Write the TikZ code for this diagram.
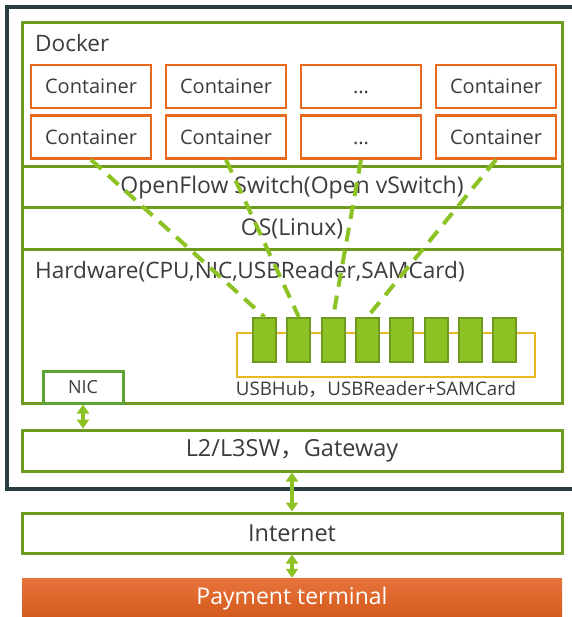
\documentclass[tikz,border=0pt]{standalone}
\usepackage{fontspec}
\setmainfont{Open Sans}
\newfontfamily\cjk{Noto Sans CJK JP}
\usetikzlibrary{arrows.meta}
\definecolor{framegray}{HTML}{2B3C45}
\definecolor{boxgreen}{HTML}{6E9A1F}
\definecolor{lightgreen}{HTML}{8CC224}
\definecolor{nicgreen}{HTML}{5BA332}
\definecolor{boxorange}{HTML}{E8691E}
\definecolor{hubyellow}{HTML}{E9B825}
\definecolor{textgray}{HTML}{3C3C3C}
\definecolor{paytop}{HTML}{E8743C}
\definecolor{paybot}{HTML}{D2581A}

\begin{document}
\begin{tikzpicture}[x=1pt,y=-1pt,
		layer/.style={draw=boxgreen, line width=3pt, fill=white, minimum width=540, inner sep=0pt, text=textgray, font=\fontsize{23}{26}\selectfont},
		container/.style={draw=boxorange, line width=2.5pt, fill=white, minimum width=120, minimum height=43, inner sep=0pt, text height=14.3pt, text depth=0pt, text=textgray, font=\fontsize{20}{23}\selectfont},
		usb/.style={draw=boxgreen, line width=2pt, fill=lightgreen, minimum width=23, minimum height=44, inner sep=0pt},
		label/.style={inner sep=0pt, text=textgray},
		link/.style={lightgreen, line width=4pt, dash pattern=on 14pt off 9pt},
		biarrow/.style={lightgreen, line width=3.5pt, {Triangle[width=12pt,length=9pt]}-{Triangle[width=12pt,length=9pt]}}]
			\useasboundingbox (0,0) rectangle (571,617);
			\node	(server) at (296,248) [draw=framegray, line width=4pt, minimum width=578, minimum height=482] {};
			
			\node	(docker) at (292,95) [layer, minimum height=144] {};
			\node	(dl) at (35,52) [label, anchor=base west, font=\fontsize{22.6}{26}\selectfont] {Docker};
			\node	(c11) at (91,86.5) [container] {Container};
			\node	(c12) at (226,86.5) [container] {Container};
			\node	(c13) at (361,86.5) [container] {...};
			\node	(c14) at (496,86.5) [container] {Container};
			\node	(c21) at (91,137) [container] {Container};
			\node	(c22) at (226,137) [container] {Container};
			\node	(c23) at (361,137) [container] {...};
			\node	(c24) at (496,137) [container] {Container};
			
			\node	(ovs) at (292,187.5) [layer, minimum height=41] {OpenFlow Switch(Open vSwitch)};
			\node	(os) at (292,228.5) [layer, minimum height=41] {OS(Linux)};
			\node	(hw) at (292,326) [layer, minimum height=154] {};
			\node	(hl) at (35,278) [label, anchor=base west, font=\fontsize{22.6}{26}\selectfont] {Hardware(CPU,NIC,USBReader,SAMCard)};
			
			\node	(hub) at (386,355) [draw=hubyellow, line width=2pt, minimum width=298, minimum height=44] {};
			\node	(u1) at (264.5,340) [usb] {};
			\node	(u2) at (298.8,340) [usb] {};
			\node	(u3) at (333.1,340) [usb] {};
			\node	(u4) at (367.4,340) [usb] {};
			\node	(u5) at (401.7,340) [usb] {};
			\node	(u6) at (436,340) [usb] {};
			\node	(u7) at (470.3,340) [usb] {};
			\node	(u8) at (504.6,340) [usb] {};
			\node	(ul) at (376,389) [label, font=\fontsize{18.7}{22}\selectfont] {USBHub{\cjk ，}USBReader+SAMCard};
			
			\node	(nic) at (83,387) [draw=nicgreen, line width=3pt, fill=white, minimum width=80, minimum height=32, inner sep=0pt, text=textgray, font=\fontsize{18}{21}\selectfont] {NIC};
			
			\node	(l2) at (292,450.5) [layer, minimum height=41, font=\fontsize{23.5}{27}\selectfont] {L2/L3SW{\cjk ，}Gateway};
			\node	(inet) at (292,533) [layer, minimum height=40, font=\fontsize{23.5}{27}\selectfont] {Internet};
			\node	(pay) at (292,599) [minimum width=540, minimum height=42, inner sep=0pt, top color=paytop, bottom color=paybot, text=white, font=\fontsize{23}{26}\selectfont] {Payment terminal};
			
			\draw 
			(c21.south) edge[link] (u1.north)
			(c22.south) edge[link] (u2.north)
			(c23.south) edge[link] (u3.north)
			(c24.south) edge[link] (u4.north)
			;
			\draw 
			(nic.south) edge[biarrow] (nic.south |- l2.north)
			(l2) edge[biarrow] (inet)
			(inet) edge[biarrow] (pay)
			;
		\end{tikzpicture}
\end{document}
